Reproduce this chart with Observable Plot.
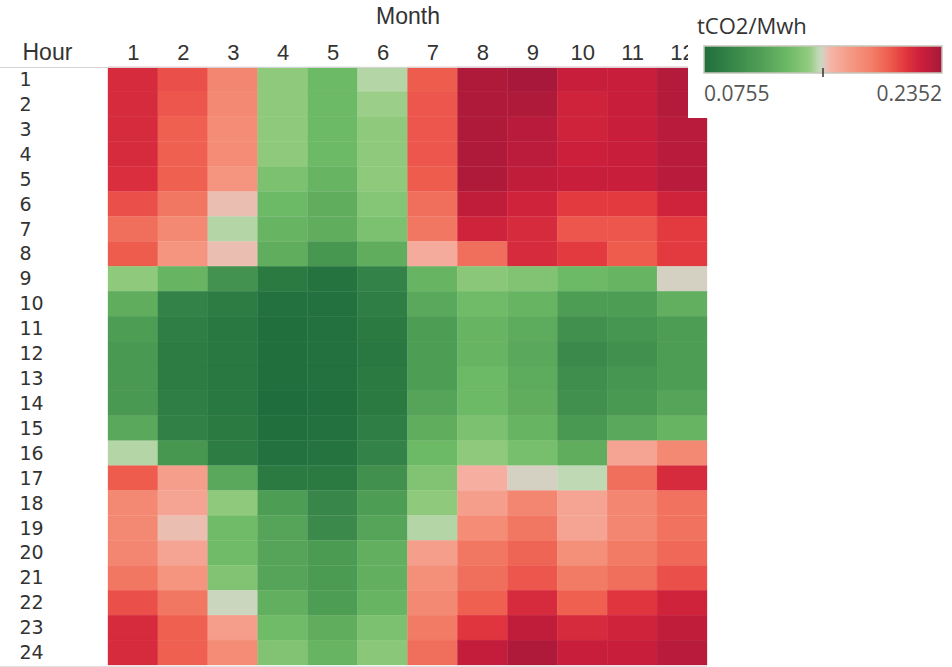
<!DOCTYPE html>
<html>
<head>
<meta charset="utf-8">
<script src="https://cdn.jsdelivr.net/npm/d3@7"></script>
<script src="https://cdn.jsdelivr.net/npm/@observablehq/plot@0.6"></script>
<style>
  body { margin: 0; background: #fff; }
  #wrap { position: relative; width: 952px; height: 667px; overflow: hidden; background: #fff; }
  #chart { position: absolute; left: 0; top: 0; }
  #legend { position: absolute; left: 688px; top: 0; width: 264px; height: 118px; background: #fff; }
</style>
</head>
<body>
<div id="wrap"><div id="chart"></div><div id="legend"></div></div>
<script>
// ---- data (tCO2/MWh) ----
const months = [1, 2, 3, 4, 5, 6, 7, 8, 9, 10, 11, 12];
const hours = [1, 2, 3, 4, 5, 6, 7, 8, 9, 10, 11, 12, 13, 14, 15, 16, 17, 18, 19, 20, 21, 22, 23, 24];

const h1  = [0.2160, 0.2033, 0.1841, 0.1442, 0.1314, 0.1506, 0.2001, 0.2320, 0.2352, 0.2224, 0.2224, 0.2304];
const h2  = [0.2160, 0.2017, 0.1825, 0.1442, 0.1314, 0.1474, 0.2017, 0.2320, 0.2320, 0.2192, 0.2224, 0.2304];
const h3  = [0.2160, 0.1985, 0.1809, 0.1442, 0.1314, 0.1442, 0.2017, 0.2320, 0.2288, 0.2192, 0.2224, 0.2288];
const h4  = [0.2160, 0.1985, 0.1809, 0.1442, 0.1314, 0.1442, 0.2017, 0.2320, 0.2272, 0.2208, 0.2224, 0.2288];
const h5  = [0.2144, 0.1985, 0.1761, 0.1378, 0.1282, 0.1442, 0.2001, 0.2320, 0.2256, 0.2224, 0.2224, 0.2288];
const h6  = [0.2033, 0.1905, 0.1585, 0.1314, 0.1234, 0.1410, 0.1937, 0.2256, 0.2192, 0.2096, 0.2096, 0.2192];
const h7  = [0.1937, 0.1825, 0.1506, 0.1282, 0.1234, 0.1378, 0.1905, 0.2192, 0.2160, 0.2017, 0.2017, 0.2096];
const h8  = [0.2001, 0.1761, 0.1585, 0.1234, 0.1074, 0.1234, 0.1649, 0.1937, 0.2160, 0.2096, 0.2001, 0.2096];
const h9  = [0.1442, 0.1282, 0.1042, 0.0851, 0.0803, 0.0915, 0.1282, 0.1426, 0.1394, 0.1314, 0.1282, 0.1554];
const h10 = [0.1234, 0.0915, 0.0867, 0.0787, 0.0787, 0.0883, 0.1202, 0.1330, 0.1282, 0.1122, 0.1122, 0.1250];
const h11 = [0.1122, 0.0883, 0.0835, 0.0771, 0.0787, 0.0851, 0.1122, 0.1282, 0.1218, 0.1026, 0.1058, 0.1122];
const h12 = [0.1090, 0.0867, 0.0835, 0.0771, 0.0787, 0.0835, 0.1122, 0.1282, 0.1202, 0.0979, 0.1026, 0.1122];
const h13 = [0.1090, 0.0867, 0.0835, 0.0771, 0.0787, 0.0851, 0.1122, 0.1314, 0.1218, 0.1011, 0.1058, 0.1122];
const h14 = [0.1090, 0.0883, 0.0835, 0.0755, 0.0771, 0.0851, 0.1170, 0.1314, 0.1234, 0.1026, 0.1090, 0.1170];
const h15 = [0.1202, 0.0899, 0.0851, 0.0771, 0.0787, 0.0883, 0.1234, 0.1378, 0.1282, 0.1090, 0.1202, 0.1282];
const h16 = [0.1506, 0.1074, 0.0867, 0.0787, 0.0803, 0.0915, 0.1314, 0.1442, 0.1362, 0.1234, 0.1681, 0.1825];
const h17 = [0.2001, 0.1713, 0.1202, 0.0851, 0.0851, 0.1026, 0.1394, 0.1633, 0.1554, 0.1522, 0.1937, 0.2160];
const h18 = [0.1825, 0.1681, 0.1442, 0.1122, 0.0947, 0.1122, 0.1442, 0.1713, 0.1841, 0.1681, 0.1841, 0.1921];
const h19 = [0.1825, 0.1585, 0.1330, 0.1170, 0.0979, 0.1170, 0.1506, 0.1809, 0.1905, 0.1681, 0.1841, 0.1921];
const h20 = [0.1841, 0.1681, 0.1330, 0.1170, 0.1106, 0.1250, 0.1713, 0.1905, 0.1969, 0.1793, 0.1889, 0.1953];
const h21 = [0.1905, 0.1761, 0.1394, 0.1170, 0.1106, 0.1250, 0.1793, 0.1937, 0.2017, 0.1889, 0.1937, 0.2033];
const h22 = [0.2033, 0.1905, 0.1538, 0.1250, 0.1122, 0.1282, 0.1825, 0.1985, 0.2160, 0.1985, 0.2112, 0.2192];
const h23 = [0.2160, 0.1985, 0.1713, 0.1330, 0.1234, 0.1378, 0.1889, 0.2112, 0.2256, 0.2160, 0.2192, 0.2256];
const h24 = [0.2160, 0.1985, 0.1809, 0.1394, 0.1282, 0.1426, 0.1937, 0.2240, 0.2320, 0.2224, 0.2224, 0.2288];

const legendTitle = "tCO2/Mwh";
const legendMin = 0.0755;
const legendMax = 0.2352;
const xTitle = "Month";
const yTitle = "Hour";

// ---- build table ----
const rows = [h1, h2, h3, h4, h5, h6, h7, h8, h9, h10, h11, h12, h13, h14, h15, h16, h17, h18, h19, h20, h21, h22, h23, h24];
const table = hours.flatMap((h, i) => months.map((m, j) => ({hour: h, month: m, value: rows[i][j]})));

// Tableau-like red-green diverging ramp (style)
const rampStops  = [0, 0.235, 0.36, 0.445, 0.48, 0.498, 0.53, 0.613, 0.70, 0.78, 0.845, 0.91, 1];
const rampColors = ["#1f6d3c", "#4f9e55", "#6fbb67", "#95cc80", "#c0d9b5", "#d2d3c4", "#f5b4a8", "#f59a85", "#f3806a", "#ee5c4e", "#e2373f", "#cc1f3c", "#a8183a"];
const span = legendMax - legendMin;

const headFont = "'Liberation Sans', Arial, sans-serif";
const rowFont = "'DejaVu Sans', Verdana, sans-serif";

const chart = Plot.plot({
  width: 710,
  height: 667,
  marginLeft: 108,
  marginTop: 67,
  marginRight: 3,
  marginBottom: 2,
  style: {fontFamily: headFont, color: "#333", background: "transparent"},
  x: {type: "band", domain: months, padding: 0, round: false, axis: null},
  y: {type: "band", domain: hours, padding: 0, round: false, axis: null},
  color: {
    type: "linear",
    domain: rampStops.map(f => legendMin + f * span),
    range: rampColors,
    interpolate: "rgb",
    clamp: true
  },
  marks: [
    Plot.cell(table, {x: "month", y: "hour", fill: "value", inset: 0, stroke: "value", strokeWidth: 0.3}),
    Plot.axisX({anchor: "top", tickSize: 0, tickPadding: 8, label: null, fontSize: 22, fontFamily: headFont}),
    Plot.axisY({anchor: "left", tickSize: 0, tickPadding: 0, textAnchor: "start", dx: -89, label: null, fontSize: 19, fontFamily: rowFont}),
    Plot.text([xTitle], {frameAnchor: "top", dy: -44, lineAnchor: "bottom", fontSize: 23, fontFamily: headFont, fill: "#333"}),
    Plot.text([yTitle], {frameAnchor: "top-left", dx: -86, dy: -8, textAnchor: "start", lineAnchor: "bottom", fontSize: 23, fontFamily: headFont, fill: "#333"})
  ]
});
document.getElementById("chart").appendChild(chart);

// header rule across the top of the table
d3.select(chart).append("line")
  .attr("x1", 0).attr("x2", 707).attr("y1", 67.5).attr("y2", 67.5)
  .attr("stroke", "#d4d4d4").attr("stroke-width", 1);
d3.select(chart).append("line")
  .attr("x1", 0).attr("x2", 707).attr("y1", 666.5).attr("y2", 666.5)
  .attr("stroke", "#e0e0e0").attr("stroke-width", 1);

// ---- legend using the chart's own color scale ----
const color = chart.scale("color");
const lw = 264, lh = 118;
const bx = 16, by = 46, bw = 238, bh = 27;
const svg = d3.create("svg").attr("width", lw).attr("height", lh)
  .style("font-family", "'Open Sans', sans-serif");
const grad = svg.append("defs").append("linearGradient").attr("id", "ramp");
d3.range(0, 1.0001, 0.01).forEach(t => {
  grad.append("stop").attr("offset", t).attr("stop-color", color.apply(legendMin + t * span));
});
svg.append("text").attr("x", 9).attr("y", 34).attr("font-size", 22).attr("fill", "#333").text(legendTitle);
svg.append("rect").attr("x", bx).attr("y", by).attr("width", bw).attr("height", bh)
  .attr("fill", "url(#ramp)").attr("stroke", "#c6c6bc").attr("stroke-width", 1.5);
const mid = (legendMin + legendMax) / 2;
const tx = bx + bw * (mid - legendMin) / span;
svg.append("line").attr("x1", tx).attr("x2", tx).attr("y1", by + bh - 5).attr("y2", by + bh + 4)
  .attr("stroke", "#333").attr("stroke-width", 1.5);
svg.append("text").attr("x", bx).attr("y", 101).attr("font-size", 21).attr("fill", "#555")
  .text(legendMin.toFixed(4));
svg.append("text").attr("x", bx + bw).attr("y", 101).attr("font-size", 21).attr("fill", "#555")
  .attr("text-anchor", "end").text(legendMax.toFixed(4));
document.getElementById("legend").appendChild(svg.node());
</script>
</body>
</html>
